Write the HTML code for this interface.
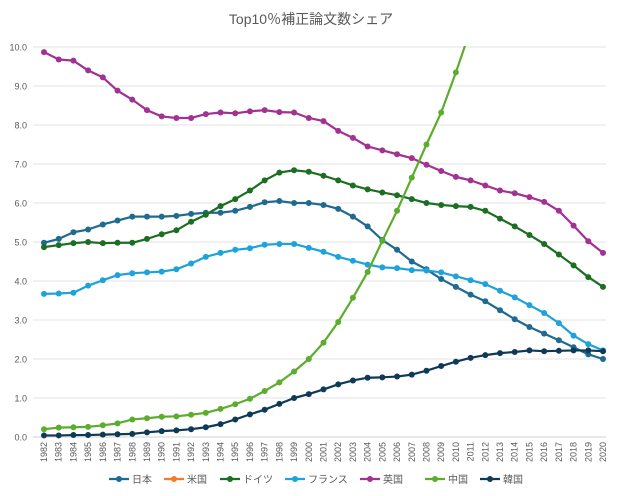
<!DOCTYPE html>
<html><head><meta charset="utf-8"><style>
body{margin:0;background:#fff;}
svg{display:block;font-family:"Liberation Sans","Noto Sans CJK JP",sans-serif;}
</style></head><body>
<svg id="chart" width="622" height="496">
<defs><clipPath id="pc"><rect x="30" y="46" width="590" height="400"/></clipPath></defs>
<text x="311" y="24" text-anchor="middle" font-size="14" fill="#595959">Top10％補正論文数シェア</text>
<g id="grid"></g><g id="xlab"></g><g id="series" clip-path="url(#pc)"></g><g id="legend"></g>
</svg>
<script>
const years=[];for(let y=1982;y<=2020;y++)years.push(y);
const yTicks=[0,1,2,3,4,5,6,7,8,9,10];
const japan=[4.98,5.08,5.25,5.32,5.45,5.55,5.65,5.65,5.65,5.67,5.72,5.75,5.75,5.8,5.9,6.02,6.05,6.0,6.0,5.95,5.85,5.65,5.4,5.05,4.8,4.5,4.3,4.05,3.85,3.65,3.48,3.25,3.02,2.82,2.65,2.48,2.3,2.12,2.0];
const usa=[];
const germany=[4.87,4.92,4.97,5.0,4.97,4.98,4.98,5.08,5.2,5.3,5.52,5.7,5.92,6.1,6.32,6.58,6.78,6.84,6.8,6.7,6.58,6.45,6.35,6.27,6.2,6.1,6.0,5.95,5.92,5.9,5.8,5.6,5.4,5.18,4.95,4.68,4.4,4.1,3.85];
const france=[3.67,3.68,3.7,3.88,4.02,4.15,4.2,4.22,4.24,4.3,4.45,4.62,4.72,4.8,4.84,4.93,4.95,4.95,4.85,4.75,4.62,4.52,4.42,4.35,4.33,4.28,4.27,4.22,4.12,4.02,3.92,3.75,3.58,3.38,3.18,2.92,2.6,2.38,2.22];
const uk=[9.87,9.68,9.65,9.4,9.22,8.88,8.65,8.38,8.22,8.18,8.18,8.28,8.32,8.3,8.35,8.38,8.33,8.32,8.18,8.1,7.85,7.67,7.45,7.35,7.25,7.15,6.98,6.82,6.67,6.58,6.45,6.32,6.25,6.15,6.03,5.8,5.42,5.02,4.72];
const china=[0.2,0.24,0.25,0.26,0.3,0.35,0.45,0.48,0.52,0.53,0.57,0.62,0.72,0.84,0.98,1.18,1.4,1.68,2.0,2.42,2.95,3.57,4.23,5.03,5.8,6.65,7.5,8.32,9.35,10.45,11.5,12.5,13.4,14.3,15.1,15.9,16.6,17.3,18.0];
const korea=[0.04,0.04,0.05,0.05,0.06,0.07,0.08,0.12,0.15,0.17,0.2,0.25,0.33,0.45,0.58,0.7,0.85,1.0,1.1,1.22,1.35,1.45,1.52,1.53,1.55,1.6,1.7,1.82,1.93,2.03,2.1,2.15,2.18,2.22,2.2,2.21,2.22,2.22,2.2];
const names=["日本","米国","ドイツ","フランス","英国","中国","韓国"];
const keys=["japan","usa","germany","france","uk","china","korea"];
const allData=[japan,usa,germany,france,uk,china,korea];
const colors=["#1f6a8f","#f47a2c","#1b6e22","#1ea2dc","#a13193","#5cad2e","#0f3a55"];
const NS="http://www.w3.org/2000/svg";
const X0=44,X1=603,Y0=437,Y1=47;
const xs=i=>X0+(X1-X0)*i/(years.length-1);
const ys=v=>Y0-(Y0-Y1)*v/10;
function mk(t,a,p){const e=document.createElementNS(NS,t);for(const k in a)e.setAttribute(k,a[k]);p.appendChild(e);return e;}
const grid=document.getElementById('grid');
yTicks.forEach(t=>{
 const l=mk('line',{x1:33,x2:606,y1:ys(t),y2:ys(t),stroke:t===0?'#d0d0d0':'#e3e3e3','stroke-width':1},grid);
 
 
 const tx=mk('text',{x:27,y:ys(t)+3.5,'text-anchor':'end','font-size':9,fill:'#595959'},grid);
 tx.textContent=t.toFixed(1);
 
 
});
const xl=document.getElementById('xlab');
years.forEach((y,i)=>{
 const t=mk('text',{transform:`translate(${xs(i)+3},442) rotate(-90)`,'text-anchor':'end','font-size':9,fill:'#595959'},xl);
 t.textContent=y;
 
 
});
const sg=document.getElementById('series');
allData.forEach((d,s)=>{
 if(!d.length)return;
 const g=mk('g',{},sg);
 
 
 const pl=mk('polyline',{points:d.map((v,i)=>xs(i)+','+ys(v)).join(' '),fill:'none',stroke:colors[s],'stroke-width':2.2,'stroke-linejoin':'round'},g);
 
 
 d.forEach((v,i)=>{
  const c=mk('circle',{cx:xs(i),cy:ys(v),r:3,fill:colors[s]},g);
  
  
 });
});
const lg=document.getElementById('legend');
const lx=[109,164,220,285,360,425,480];
names.forEach((n,s)=>{
 const g=mk('g',{},lg);
 
 
 mk('line',{x1:lx[s],x2:lx[s]+20,y1:479,y2:479,stroke:colors[s],'stroke-width':2.2},g);
 mk('circle',{cx:lx[s]+10,cy:479,r:3,fill:colors[s]},g);
 const t=mk('text',{x:lx[s]+23,y:483,'font-size':10,fill:'#595959'},g);
 t.textContent=n;
});
</script>
</body></html>
